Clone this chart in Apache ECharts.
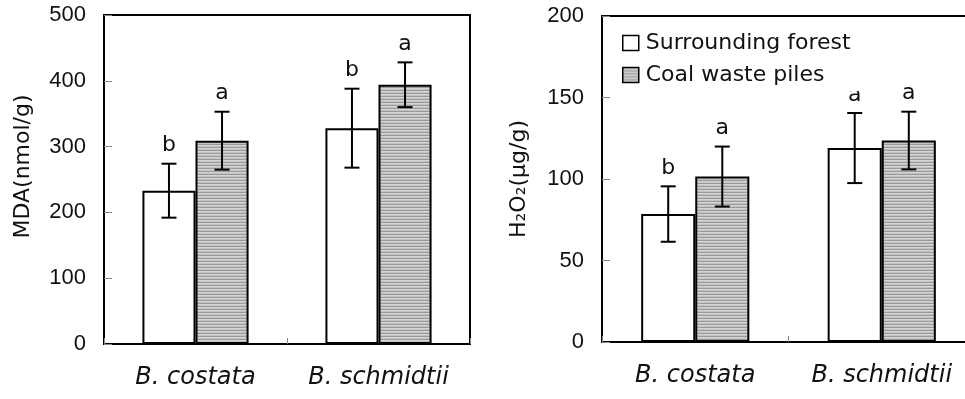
<!DOCTYPE html>
<html>
<head>
<meta charset="utf-8">
<script src="https://cdn.jsdelivr.net/npm/echarts@6/dist/echarts.min.js"></script>
<style>html,body{margin:0;padding:0;background:#fff}#c{width:965px;height:399px}</style>
</head>
<body>
<div id="c"></div>
<script>
// ---- data ----
const categories = ['B. costata', 'B. schmidtii'];
const seriesNames = ['Surrounding forest', 'Coal waste piles'];

const mdaForest = [233, 328];
const mdaForestErr = [41, 60];
const mdaForestSig = ['b', 'b'];
const mdaCoal = [309, 394];
const mdaCoalErr = [44, 34];
const mdaCoalSig = ['a', 'a'];

const h2o2Forest = [78.5, 119];
const h2o2ForestErr = [17, 21.5];
const h2o2ForestSig = ['b', 'a'];
const h2o2Coal = [101.5, 123.6];
const h2o2CoalErr = [18.4, 17.7];
const h2o2CoalSig = ['a', 'a'];

const mdaTicks = {min: 0, max: 500, interval: 100};
const h2o2Ticks = {min: 0, max: 200, interval: 50};

// ---- styling ----
const TXT = '"DejaVu Sans", sans-serif';
const NUM = '"Liberation Sans", Arial, sans-serif';

const pat = document.createElement('canvas');
pat.width = 4; pat.height = 3;
(function () {
  const g = pat.getContext('2d');
  g.fillStyle = '#9a9a9a'; g.fillRect(0, 0, 4, 1);
  g.fillStyle = '#d4d4d4'; g.fillRect(0, 1, 4, 1);
  g.fillStyle = '#c2c2c2'; g.fillRect(0, 2, 4, 1);
})();
const grayFill = {image: pat, repeat: 'repeat'};

const BAR_FRAC = 0.29;

function barSeries(name, data, xi, fill) {
  return {
    type: 'bar', name: name, data: data, xAxisIndex: xi, yAxisIndex: xi,
    barWidth: (BAR_FRAC * 100) + '%', barGap: '0%',
    itemStyle: {color: fill, borderColor: '#000', borderWidth: 2},
    emphasis: {disabled: true}, z: 2
  };
}

function errSeries(means, errs, sigs, xi, sign) {
  return {
    type: 'custom', xAxisIndex: xi, yAxisIndex: xi, z: 3,
    silent: true,
    data: means.map((m, i) => [i, m, errs[i]]),
    encode: {x: 0, y: 1},
    renderItem: function (params, api) {
      const i = api.value(0), m = api.value(1), e = api.value(2);
      const band = api.size([1, 0])[0];
      const top = api.coord([i, m + e]);
      const bot = api.coord([i, m - e]);
      const x = top[0] + sign * band * BAR_FRAC / 2;
      const cap = 7.5;
      const st = {stroke: '#000', lineWidth: 2};
      return {
        type: 'group',
        children: [
          {type: 'line', shape: {x1: x, y1: top[1], x2: x, y2: bot[1]}, style: st},
          {type: 'line', shape: {x1: x - cap, y1: top[1], x2: x + cap, y2: top[1]}, style: st},
          {type: 'line', shape: {x1: x - cap, y1: bot[1], x2: x + cap, y2: bot[1]}, style: st},
          {type: 'text', style: {text: sigs[params.dataIndex], x: x, y: top[1] - 7,
            align: 'center', verticalAlign: 'bottom', font: '22px ' + TXT, fill: '#111'}}
        ]
      };
    }
  };
}

function yAxis(gi, name, t, gap, namePad) {
  return {
    type: 'value', gridIndex: gi, min: t.min, max: t.max, interval: t.interval,
    name: name, nameLocation: 'middle', nameGap: gap, nameRotate: 90,
    nameTextStyle: {fontFamily: TXT, fontSize: 22, color: '#111', padding: namePad},
    axisLine: {show: true, lineStyle: {color: '#000', width: 2}},
    axisTick: {show: true, inside: true, length: 8, lineStyle: {color: '#888', width: 1}},
    axisLabel: {fontFamily: NUM, fontSize: 22, color: '#111', margin: 18},
    splitLine: {show: false}
  };
}

function xAxis(gi) {
  return {
    type: 'category', gridIndex: gi, data: categories,
    axisLine: {show: true, lineStyle: {color: '#000', width: 2}},
    axisTick: {show: true, inside: true, length: 6, lineStyle: {color: '#888', width: 1}},
    axisLabel: {fontFamily: TXT, fontStyle: 'italic', fontSize: 24, color: '#111', margin: 22, interval: 0, hideOverlap: false},
    splitLine: {show: false}
  };
}

const option = {
  backgroundColor: '#fff',
  animation: false,
  grid: [
    {left: 104, top: 15, width: 366, height: 329, show: true, borderColor: '#000', borderWidth: 2,
      backgroundColor: 'transparent', containLabel: false, outerBoundsMode: 'none'},
    {left: 602, top: 16, width: 373, height: 326, show: true, borderColor: '#000', borderWidth: 2,
      backgroundColor: 'transparent', containLabel: false, outerBoundsMode: 'none'}
  ],
  legend: {
    orient: 'vertical', left: 617, top: 28,
    data: seriesNames,
    icon: 'rect', itemWidth: 16, itemHeight: 15, itemGap: 10,
    padding: [4, 8, 5, 5],
    backgroundColor: '#fff',
    textStyle: {fontFamily: TXT, fontSize: 22, color: '#111', padding: [0, 0, 0, 2]},
    itemStyle: {borderColor: '#000', borderWidth: 1.5},
    selectedMode: false, z: 10
  },
  xAxis: [xAxis(0), xAxis(1)],
  yAxis: [
    yAxis(0, 'MDA(nmol/g)', mdaTicks, 70, [0, 0, 0, 26]),
    yAxis(1, 'H\u2082O\u2082(\u03bcg/g)', h2o2Ticks, 72, [0, 0, 0, 0])
  ],
  series: [
    barSeries(seriesNames[0], mdaForest, 0, '#fff'),
    barSeries(seriesNames[1], mdaCoal, 0, grayFill),
    barSeries(seriesNames[0], h2o2Forest, 1, '#fff'),
    barSeries(seriesNames[1], h2o2Coal, 1, grayFill),
    errSeries(mdaForest, mdaForestErr, mdaForestSig, 0, -1),
    errSeries(mdaCoal, mdaCoalErr, mdaCoalSig, 0, 1),
    errSeries(h2o2Forest, h2o2ForestErr, h2o2ForestSig, 1, -1),
    errSeries(h2o2Coal, h2o2CoalErr, h2o2CoalSig, 1, 1)
  ]
};

const chart = echarts.init(document.getElementById('c'), null, {renderer: 'canvas'});
chart.setOption(option);
</script>
</body>
</html>
